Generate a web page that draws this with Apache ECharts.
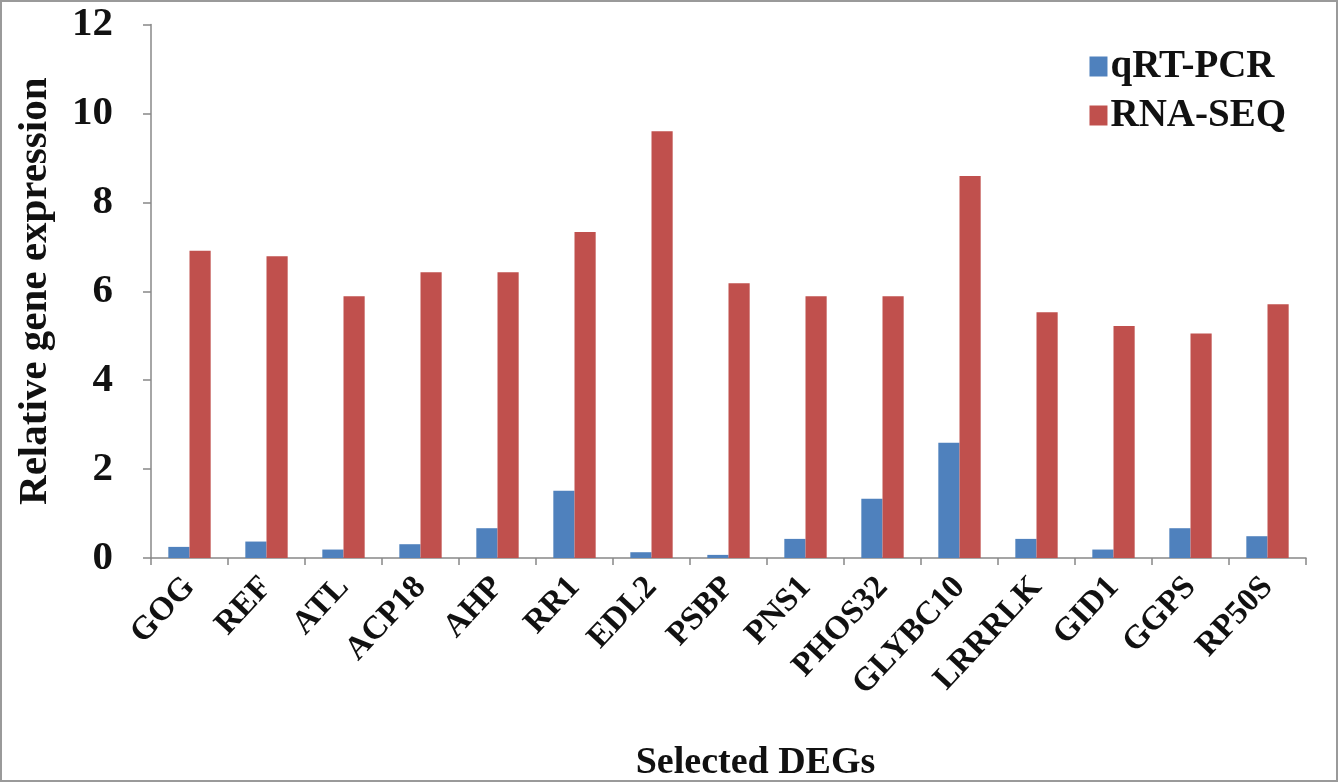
<!DOCTYPE html>
<html>
<head>
<meta charset="utf-8">
<script src="https://cdn.jsdelivr.net/npm/echarts@6/dist/echarts.min.js"></script>
<style>
html,body{margin:0;padding:0;background:#fff;}
#c{width:1339px;height:783px;}
</style>
</head>
<body>
<div id="c"></div>
<script>
var categories = ['GOG','REF','ATL','ACP18','AHP','RR1','EDL2','PSBP','PNS1','PHOS32','GLYBC10','LRRRLK','GID1','GGPS','RP50S'];
var qrtPcr = [0.25,0.37,0.19,0.31,0.67,1.51,0.13,0.07,0.43,1.33,2.59,0.43,0.19,0.67,0.49];
var rnaSeq = [6.91,6.79,5.89,6.43,6.43,7.33,9.60,6.18,5.89,5.89,8.59,5.53,5.22,5.05,5.71];
var yTicks = [0,2,4,6,8,10,12];

var font = 'Liberation Serif';
var chart = echarts.init(document.getElementById('c'));
chart.setOption({
  backgroundColor:'#fff',
  animation:false,
  graphic:[{type:'rect',shape:{x:1,y:1,width:1336,height:780},style:{fill:'none',stroke:'#9a9a9a',lineWidth:2},silent:true}],
  grid:{left:151,right:33,top:24.5,bottom:225,containLabel:false,outerBoundsMode:'none'},
  legend:{
    orient:'vertical',right:48,top:42,itemWidth:18,itemHeight:20,itemGap:10,
    icon:'rect',
    textStyle:{fontFamily:font,fontWeight:'bold',fontSize:39,color:'#111',padding:[0,0,0,-2]},
    data:['qRT-PCR','RNA-SEQ']
  },
  xAxis:{
    type:'category',data:categories,
    axisLine:{lineStyle:{color:'#888',width:1.5}},
    axisTick:{show:true,length:7,lineStyle:{color:'#888',width:1.5}},
    axisLabel:{rotate:47,margin:24,interval:0,fontFamily:font,fontWeight:'bold',fontSize:33,color:'#111'},
    name:'Selected DEGs',nameLocation:'middle',nameGap:186,
    nameTextStyle:{fontFamily:font,fontWeight:'bold',fontSize:38,color:'#111',padding:[0,0,0,54]}
  },
  yAxis:{
    type:'value',min:0,max:12,interval:2,
    axisLine:{show:true,lineStyle:{color:'#888',width:1.5}},
    axisTick:{show:true,length:8,lineStyle:{color:'#888',width:1.5}},
    splitLine:{show:false},
    axisLabel:{margin:38,fontFamily:font,fontWeight:'bold',fontSize:41,color:'#111',
      formatter:function(v){return yTicks.indexOf(v)>=0?String(v):'';}},
    name:'Relative gene expression',nameLocation:'middle',nameGap:95,
    nameTextStyle:{fontFamily:font,fontWeight:'bold',fontSize:41,color:'#111'}
  },
  series:[
    {name:'qRT-PCR',type:'bar',data:qrtPcr,barGap:'0%',barCategoryGap:'45%',itemStyle:{color:'#4F81BD'}},
    {name:'RNA-SEQ',type:'bar',data:rnaSeq,barGap:'0%',barCategoryGap:'45%',itemStyle:{color:'#C0504D'}}
  ]
});
</script>
</body>
</html>
